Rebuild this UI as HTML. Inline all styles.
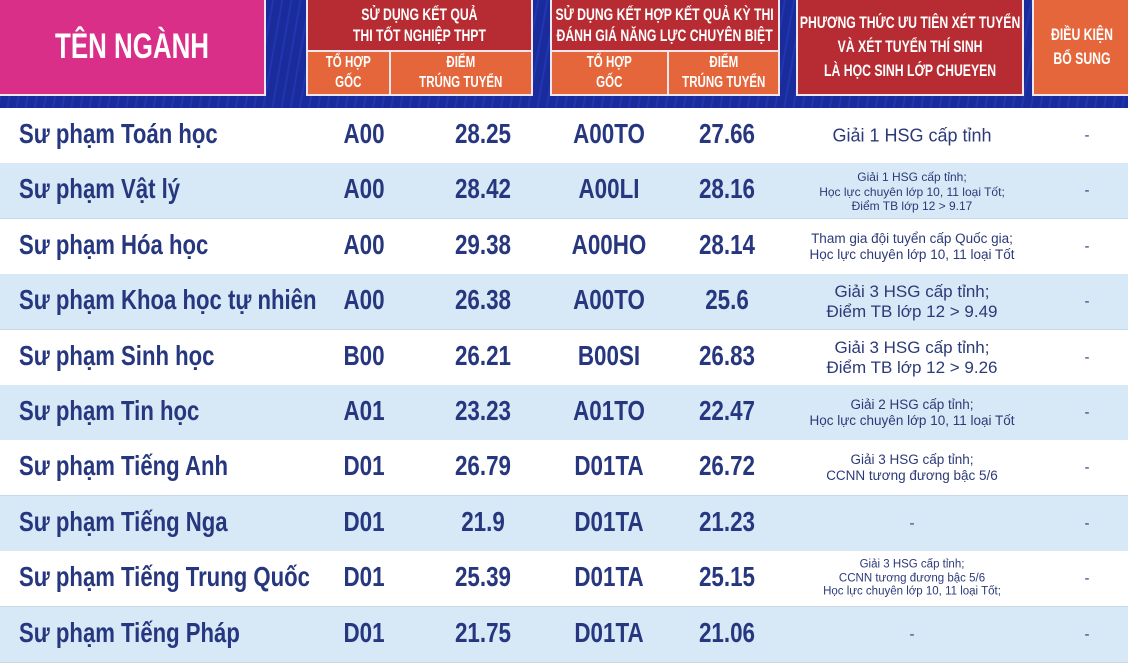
<!DOCTYPE html>
<html><head><meta charset="utf-8"><style>
*{margin:0;padding:0;box-sizing:border-box}
body{width:1128px;height:662px;overflow:hidden;background:#fff;position:relative;font-family:"Liberation Sans",sans-serif}
.hdr{position:absolute;left:0;top:0;width:1128px;height:108px;background:repeating-linear-gradient(100deg,#1a2c9c 0 7px,#2036b0 7px 9px);}
.box{position:absolute;display:flex;align-items:center;justify-content:center;text-align:center;color:#fff;font-weight:bold;border:2px solid #f0e6ee}
.c{display:inline-block;transform:scaleX(.72);white-space:nowrap;line-height:1.25}
.row{position:absolute;left:0;width:1128px;height:56px;border-bottom:1px solid #c9d6e6}
.t{position:absolute;color:#26377f;font-weight:bold;white-space:nowrap}
.p{position:absolute;left:797px;width:230px;text-align:center;color:#2c3a78;line-height:1.18}
</style></head><body>
<div class="hdr"></div>
<div class="box" style="left:-2px;top:-2px;width:268px;height:98px;background:#d92f89;font-size:35px"><span class="c" style="transform:scaleX(.74)">TÊN NGÀNH</span></div>
<div class="box" style="left:306px;top:-2px;width:227px;height:54px;background:#b72c32;font-size:17px"><span class="c">SỬ DỤNG KẾT QUẢ<br>THI TỐT NGHIỆP THPT</span></div>
<div class="box" style="left:306px;top:50px;width:85px;height:46px;background:#e4663a;font-size:16px;line-height:1"><span class="c">TỔ HỢP<br>GỐC</span></div>
<div class="box" style="left:389px;top:50px;width:144px;height:46px;background:#e4663a;font-size:16px"><span class="c">ĐIỂM<br>TRÚNG TUYỂN</span></div>
<div class="box" style="left:550px;top:-2px;width:230px;height:54px;background:#b72c32;font-size:17px"><span class="c">SỬ DỤNG KẾT HỢP KẾT QUẢ KỲ THI<br>ĐÁNH GIÁ NĂNG LỰC CHUYÊN BIỆT</span></div>
<div class="box" style="left:550px;top:50px;width:119px;height:46px;background:#e4663a;font-size:16px"><span class="c">TỔ HỢP<br>GỐC</span></div>
<div class="box" style="left:667px;top:50px;width:113px;height:46px;background:#e4663a;font-size:16px"><span class="c">ĐIỂM<br>TRÚNG TUYỂN</span></div>
<div class="box" style="left:796px;top:-2px;width:228px;height:98px;background:#b72c32;font-size:17px"><span class="c" style="line-height:1.4">PHƯƠNG THỨC ƯU TIÊN XÉT TUYỂN<br>VÀ XÉT TUYỂN THÍ SINH<br>LÀ HỌC SINH LỚP CHUEYEN</span></div>
<div class="box" style="left:1032px;top:-2px;width:100px;height:98px;background:#e4663a;font-size:17px"><span class="c" style="line-height:1.4">ĐIỀU KIỆN<br>BỔ SUNG</span></div>

<div id="rows"></div>
<script>
const d=[
["Sư phạm Toán học","A00","28.25","A00TO","27.66","Giải 1 HSG cấp tỉnh",18],
["Sư phạm Vật lý","A00","28.42","A00LI","28.16","Giải 1 HSG cấp tỉnh;<br>Học lực chuyên lớp 10, 11 loại Tốt;<br>Điểm TB lớp 12 > 9.17",12],
["Sư phạm Hóa học","A00","29.38","A00HO","28.14","Tham gia đội tuyển cấp Quốc gia;<br>Học lực chuyên lớp 10, 11 loại Tốt",13.5],
["Sư phạm Khoa học tự nhiên","A00","26.38","A00TO","25.6","Giải 3 HSG cấp tỉnh;<br>Điểm TB lớp 12 > 9.49",17],
["Sư phạm Sinh học","B00","26.21","B00SI","26.83","Giải 3 HSG cấp tỉnh;<br>Điểm TB lớp 12 > 9.26",17],
["Sư phạm Tin học","A01","23.23","A01TO","22.47","Giải 2 HSG cấp tỉnh;<br>Học lực chuyên lớp 10, 11 loại Tốt",13.5],
["Sư phạm Tiếng Anh","D01","26.79","D01TA","26.72","Giải 3 HSG cấp tỉnh;<br>CCNN tương đương bậc 5/6",13.5],
["Sư phạm Tiếng Nga","D01","21.9","D01TA","21.23","-",15],
["Sư phạm Tiếng Trung Quốc","D01","25.39","D01TA","25.15","Giải 3 HSG cấp tỉnh;<br>CCNN tương đương bậc 5/6<br>Học lực chuyên lớp 10, 11 loại Tốt;",11.5],
["Sư phạm Tiếng Pháp","D01","21.75","D01TA","21.06","-",15]];
let h="";
d.forEach((r,i)=>{const y=108+i*55.4;
h+=`<div class="row" style="top:${y}px;background:${i%2?'#d7e8f7':'#fff'}"></div>`;
const ty=y+10;
h+=`<div class="t" style="left:19px;top:${ty}px;font-size:28px;transform:scaleX(.79);transform-origin:left">${r[0]}</div>`;
[[364,r[1]],[483,r[2]],[609,r[3]],[727,r[4]]].forEach(([x,s])=>{h+=`<div class="t" style="left:${x-60}px;width:120px;text-align:center;top:${ty}px;font-size:28px;transform:scaleX(.8)">${s}</div>`});
h+=`<div class="p" style="top:${y+28}px;transform:translateY(-50%);font-size:${r[6]}px">${r[5]}</div>`;
h+=`<div class="p" style="left:1037px;width:100px;top:${y+28}px;transform:translateY(-50%);font-size:15px">-</div>`;
});
document.getElementById("rows").innerHTML=h;
</script>
</body></html>
